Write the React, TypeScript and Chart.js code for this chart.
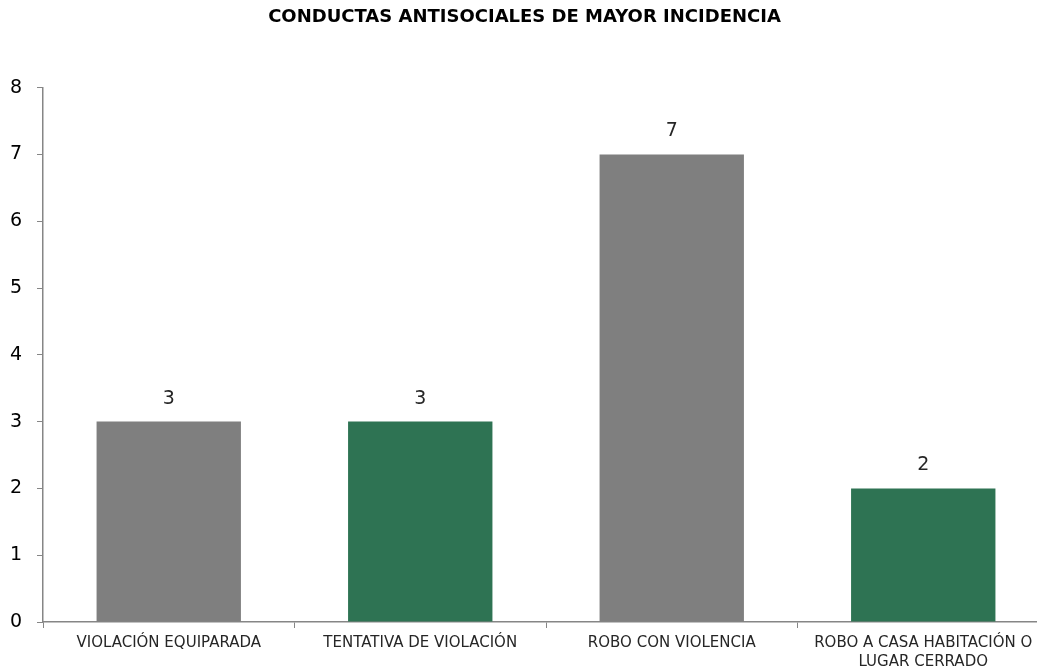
import React, { useEffect, useRef } from "react";
import { Chart, registerables } from "chart.js";

Chart.register(...registerables);

const TITLE = "CONDUCTAS ANTISOCIALES DE MAYOR INCIDENCIA";
const categories: (string | string[])[] = [
  "VIOLACIÓN EQUIPARADA",
  "TENTATIVA DE VIOLACIÓN",
  "ROBO CON VIOLENCIA",
  ["ROBO A CASA HABITACIÓN O", "LUGAR CERRADO"],
];
const values = [3, 3, 7, 2];
const barColors = ["#7F7F7F", "#2E7353", "#7F7F7F", "#2E7353"];
const yTicks = [0, 1, 2, 3, 4, 5, 6, 7, 8];

const FONT = "'DejaVu Sans', sans-serif";

const valueLabels = {
  id: "valueLabels",
  afterDatasetsDraw(chart: any) {
    const ctx = chart.ctx;
    const meta = chart.getDatasetMeta(0);
    ctx.save();
    ctx.font = `19px ${FONT}`;
    ctx.fillStyle = "#262626";
    ctx.textAlign = "center";
    ctx.textBaseline = "middle";
    meta.data.forEach((bar: any, i: number) => {
      ctx.fillText(String(values[i]), bar.x, bar.y - 23);
    });
    ctx.restore();
  },
};

export default function App() {
  const ref = useRef<HTMLCanvasElement>(null);
  useEffect(() => {
    if (!ref.current) return;
    const chart = new Chart(ref.current, {
      type: "bar",
      data: {
        labels: categories,
        datasets: [
          {
            data: values,
            backgroundColor: barColors,
            borderWidth: 0,
            categoryPercentage: 1,
            barPercentage: 0.574,
          },
        ],
      },
      options: {
        responsive: false,
        animation: false,
        layout: { padding: { left: 0, right: 7, top: 0, bottom: 0 } },
        plugins: {
          legend: { display: false },
          tooltip: { enabled: false },
          title: {
            display: true,
            text: TITLE,
            color: "#000000",
            font: { family: FONT, size: 18, weight: "bold", lineHeight: 1.2 },
            padding: { top: 7, bottom: 59 },
          },
        },
        scales: {
          x: {
            grid: {
              display: true,
              drawOnChartArea: false,
              drawTicks: true,
              tickLength: 6,
              color: "#868686",
              offset: true,
            },
            border: { color: "#868686", width: 1.5 },
            ticks: {
              color: "#262626",
              font: { family: FONT, size: 15, lineHeight: 1.3 },
              maxRotation: 0,
              minRotation: 0,
              autoSkip: false,
              padding: 5,
            },
            afterFit: (scale: any) => {
              scale.height = 47;
            },
          },
          y: {
            min: 0,
            max: 8,
            afterBuildTicks: (scale: any) => {
              scale.ticks = yTicks.map((v) => ({ value: v }));
            },
            grid: {
              display: true,
              drawOnChartArea: false,
              drawTicks: true,
              tickLength: 6,
              color: "#868686",
            },
            border: { color: "#868686", width: 1.5 },
            ticks: {
              color: "#000000",
              font: { family: FONT, size: 19 },
              padding: 15,
            },
            afterFit: (scale: any) => {
              scale.width = 43;
            },
          },
        },
      },
      plugins: [valueLabels],
    });
    return () => chart.destroy();
  }, []);
  return (
    <div
      style={{
        position: "fixed",
        left: 0,
        top: 0,
        width: 1037,
        height: 669,
        overflow: "hidden",
        background: "#ffffff",
      }}
    >
      <canvas ref={ref} width={1056} height={669} style={{ display: "block" }} />
    </div>
  );
}
